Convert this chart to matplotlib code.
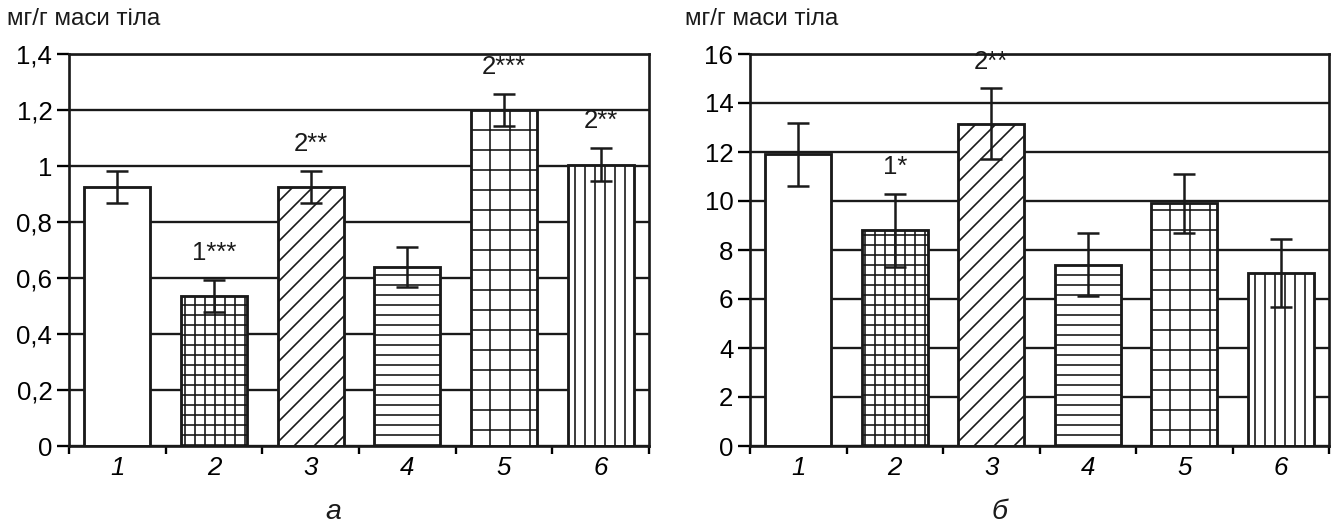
import numpy as np
import matplotlib
matplotlib.use("Agg")
import matplotlib.pyplot as plt

plt.rcParams['font.family'] = ['Liberation Sans', 'DejaVu Sans']
plt.rcParams['hatch.linewidth'] = 1.0
plt.rcParams['hatch.color'] = '#1a1a1a'

groups = ['1', '2', '3', '4', '5', '6']
hatches = ['', '++', '//', '--', '+', '||']

# панель а
vals_a = [0.925, 0.535, 0.925, 0.64, 1.20, 1.005]
err_a = [0.056, 0.058, 0.057, 0.072, 0.058, 0.060]
notes_a = ['', '1***', '2**', '', '2***', '2**']
yticks_a = [0, 0.2, 0.4, 0.6, 0.8, 1.0, 1.2, 1.4]
ylabels_a = ['0', '0,2', '0,4', '0,6', '0,8', '1', '1,2', '1,4']

# панель б
vals_b = [11.9, 8.8, 13.15, 7.4, 9.9, 7.05]
err_b = [1.3, 1.5, 1.45, 1.28, 1.22, 1.38]
notes_b = ['', '1*', '2**', '', '', '']
yticks_b = [0, 2, 4, 6, 8, 10, 12, 14, 16]
ylabels_b = ['0', '2', '4', '6', '8', '10', '12', '14', '16']

ylabel = 'мг/г маси тіла'
panel_names = ['а', 'б']

W, H = 1335, 524
fig = plt.figure(figsize=(W / 120, H / 120), dpi=120)
ax_a = fig.add_axes([69 / W, 1 - 446 / H, 580 / W, 392 / H])
ax_b = fig.add_axes([750 / W, 1 - 446 / H, 579 / W, 392 / H])

FS = 15.5


def draw_panel(ax, vals, errs, notes, yticks, ylabels):
    x = np.arange(1, len(groups) + 1)
    ax.set_axisbelow(True)
    for xi, v, h in zip(x, vals, hatches):
        ax.bar(xi, v, width=0.68, color='white', edgecolor='#1a1a1a',
               linewidth=1.7, hatch=h, zorder=2)
    ax.errorbar(x, vals, yerr=errs, fmt='none', ecolor='#1a1a1a',
                elinewidth=1.5, capsize=6.5, capthick=1.5, zorder=3)
    for xi, v, e, n in zip(x, vals, errs, notes):
        if n:
            ax.annotate(n, (xi, v + e), xytext=(0, 16), textcoords='offset points',
                        ha='center', va='center', fontsize=FS, color='#1a1a1a')
    ax.set_xlim(0.5, len(groups) + 0.5)
    ax.set_ylim(yticks[0], yticks[-1])
    ax.set_yticks(yticks)
    ax.set_yticklabels(ylabels, fontsize=FS)
    ax.yaxis.grid(True, color='#1a1a1a', linewidth=1.4)
    ax.set_xticks(np.arange(0.5, len(groups) + 1, 1.0))
    ax.set_xticklabels([])
    ax.set_xticks(x, minor=True)
    ax.set_xticklabels(groups, minor=True, fontsize=FS, style='italic')
    ax.tick_params(axis='x', which='major', length=4.5, width=1.4, direction='out')
    ax.tick_params(axis='x', which='minor', length=0, pad=6)
    ax.tick_params(axis='y', length=7, width=1.4, pad=3)
    for s in ax.spines.values():
        s.set_linewidth(1.6)
        s.set_color('#1a1a1a')


draw_panel(ax_a, vals_a, err_a, notes_a, yticks_a, ylabels_a)
draw_panel(ax_b, vals_b, err_b, notes_b, yticks_b, ylabels_b)

fig.text(7 / W, 1 - 19 / H, ylabel, fontsize=14.5, va='center', ha='left', color='#1a1a1a')
fig.text(685 / W, 1 - 19 / H, ylabel, fontsize=14.5, va='center', ha='left', color='#1a1a1a')
fig.text(333 / W, 1 - 512 / H, panel_names[0], fontsize=17, style='italic',
         ha='center', va='center', color='#1a1a1a')
fig.text(1000 / W, 1 - 512 / H, panel_names[1], fontsize=17, style='italic',
         ha='center', va='center', color='#1a1a1a')

fig.savefig('out.png', dpi=120)
